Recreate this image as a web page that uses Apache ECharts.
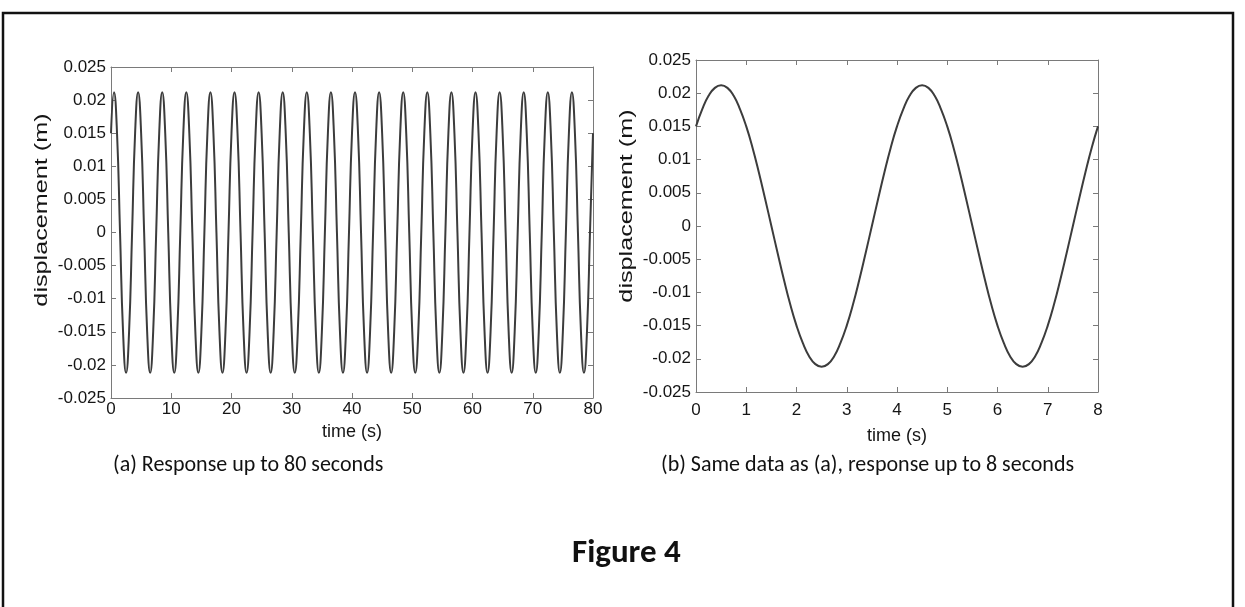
<!DOCTYPE html>
<html>
<head>
<meta charset="utf-8">
<title>Figure 4</title>
<script src="https://cdn.jsdelivr.net/npm/echarts@6.0.0/dist/echarts.min.js"></script>
<style>
  html, body { margin: 0; padding: 0; background: #fff; }
  #chart { width: 1245px; height: 607px; }
</style>
</head>
<body>
<div id="chart"></div>
<script>
// displacement (m), one sample every 0.5 s from 0 to 80 s
const stepLong = 0.5
const dispLong = [
  0.015, 0.0212, 0.015, 0, -0.015, -0.0212, -0.015, 0,
  0.015, 0.0212, 0.015, 0, -0.015, -0.0212, -0.015, 0,
  0.015, 0.0212, 0.015, 0, -0.015, -0.0212, -0.015, 0,
  0.015, 0.0212, 0.015, 0, -0.015, -0.0212, -0.015, 0,
  0.015, 0.0212, 0.015, 0, -0.015, -0.0212, -0.015, 0,
  0.015, 0.0212, 0.015, 0, -0.015, -0.0212, -0.015, 0,
  0.015, 0.0212, 0.015, 0, -0.015, -0.0212, -0.015, 0,
  0.015, 0.0212, 0.015, 0, -0.015, -0.0212, -0.015, 0,
  0.015, 0.0212, 0.015, 0, -0.015, -0.0212, -0.015, 0,
  0.015, 0.0212, 0.015, 0, -0.015, -0.0212, -0.015, 0,
  0.015, 0.0212, 0.015, 0, -0.015, -0.0212, -0.015, 0,
  0.015, 0.0212, 0.015, 0, -0.015, -0.0212, -0.015, 0,
  0.015, 0.0212, 0.015, 0, -0.015, -0.0212, -0.015, 0,
  0.015, 0.0212, 0.015, 0, -0.015, -0.0212, -0.015, 0,
  0.015, 0.0212, 0.015, 0, -0.015, -0.0212, -0.015, 0,
  0.015, 0.0212, 0.015, 0, -0.015, -0.0212, -0.015, 0,
  0.015, 0.0212, 0.015, 0, -0.015, -0.0212, -0.015, 0,
  0.015, 0.0212, 0.015, 0, -0.015, -0.0212, -0.015, 0,
  0.015, 0.0212, 0.015, 0, -0.015, -0.0212, -0.015, 0,
  0.015, 0.0212, 0.015, 0, -0.015, -0.0212, -0.015, 0,
  0.015
]

// displacement (m), one sample every 0.125 s from 0 to 8 s
const stepShort = 0.125
const dispShort = [
  0.015, 0.0176, 0.0196, 0.0208, 0.0212, 0.0208, 0.0196, 0.0176,
  0.015, 0.0118, 0.0081, 0.0041, 0, -0.0041, -0.0081, -0.0118,
  -0.015, -0.0176, -0.0196, -0.0208, -0.0212, -0.0208, -0.0196, -0.0176,
  -0.015, -0.0118, -0.0081, -0.0041, 0, 0.0041, 0.0081, 0.0118,
  0.015, 0.0176, 0.0196, 0.0208, 0.0212, 0.0208, 0.0196, 0.0176,
  0.015, 0.0118, 0.0081, 0.0041, 0, -0.0041, -0.0081, -0.0118,
  -0.015, -0.0176, -0.0196, -0.0208, -0.0212, -0.0208, -0.0196, -0.0176,
  -0.015, -0.0118, -0.0081, -0.0041, 0, 0.0041, 0.0081, 0.0118,
  0.015
]

const yName = 'displacement (m)'
const xName = 'time (s)'
const captionA = '(a) Response up to 80 seconds'
const captionB = '(b) Same data as (a), response up to 8 seconds'
const figureTitle = 'Figure 4'

const axisFont = 'Liberation Sans, Arial, sans-serif'
const captionFont = 'Carlito, Lato, sans-serif'
const boxColor = '#7a7a7a'
const textColor = '#151515'

function xAxes(gridIndex, max, interval, nameGap, margin) {
  const base = {
    type: 'value',
    gridIndex: gridIndex,
    min: 0,
    max: max,
    interval: interval,
    axisLine: { show: true, onZero: false, lineStyle: { color: boxColor, width: 1 } },
    axisTick: { show: true, inside: true, length: 5, lineStyle: { color: boxColor } },
    splitLine: { show: false }
  }
  return [
    Object.assign({}, base, {
      position: 'bottom',
      name: xName,
      nameLocation: 'middle',
      nameGap: nameGap,
      nameTextStyle: { fontFamily: axisFont, fontSize: 18, color: textColor },
      axisLabel: { fontFamily: axisFont, fontSize: 17, color: textColor, margin: margin }
    }),
    Object.assign({}, base, {
      position: 'top',
      axisLabel: { show: false }
    })
  ]
}

function yAxes(gridIndex) {
  const base = {
    type: 'value',
    gridIndex: gridIndex,
    min: -0.025,
    max: 0.025,
    interval: 0.005,
    axisLine: { show: true, onZero: false, lineStyle: { color: boxColor, width: 1 } },
    axisTick: { show: true, inside: true, length: 5, lineStyle: { color: boxColor } },
    splitLine: { show: false }
  }
  return [
    Object.assign({}, base, {
      position: 'left',
      axisLabel: { fontFamily: axisFont, fontSize: 17, color: textColor, margin: 5 }
    }),
    Object.assign({}, base, {
      position: 'right',
      axisLabel: { show: false }
    })
  ]
}

// the scanned figure is stretched vertically, so the rotated titles are stretched along their length
function yTitle(x, y) {
  return {
    type: 'text',
    x: x,
    y: y,
    rotation: Math.PI / 2,
    scaleX: 1.4,
    silent: true,
    style: {
      text: yName,
      fontFamily: axisFont,
      fontSize: 18,
      fill: textColor,
      align: 'center',
      verticalAlign: 'middle'
    }
  }
}

const chart = echarts.init(document.getElementById('chart'), null, { renderer: 'canvas' })

chart.setOption({
  animation: false,
  backgroundColor: '#fff',
  grid: [
    { left: 111, top: 67, width: 482, height: 331 },
    { left: 696, top: 60, width: 402, height: 332 }
  ],
  xAxis: [].concat(xAxes(0, 80, 10, 22, 3), xAxes(1, 8, 1, 35, 10)),
  yAxis: [].concat(yAxes(0), yAxes(1)),
  series: [
    {
      type: 'line',
      xAxisIndex: 0,
      yAxisIndex: 0,
      data: dispLong.map((v, i) => [i * stepLong, v]),
      smooth: 0.5,
      showSymbol: false,
      lineStyle: { color: '#3c3c3c', width: 2 }
    },
    {
      type: 'line',
      xAxisIndex: 2,
      yAxisIndex: 2,
      data: dispShort.map((v, i) => [i * stepShort, v]),
      smooth: 0.5,
      showSymbol: false,
      lineStyle: { color: '#3c3c3c', width: 2 }
    }
  ],
  graphic: [
    {
      type: 'rect',
      silent: true,
      shape: { x: 3, y: 13, width: 1230, height: 640 },
      style: { fill: 'none', stroke: '#111', lineWidth: 2.5 }
    },
    yTitle(42, 210),
    yTitle(627, 206),
    {
      type: 'text',
      left: 113,
      top: 454,
      style: { text: captionA, fontFamily: captionFont, fontSize: 22, fill: '#111' }
    },
    {
      type: 'text',
      left: 661,
      top: 454,
      style: { text: captionB, fontFamily: captionFont, fontSize: 22, fill: '#111' }
    },
    {
      type: 'text',
      left: 572,
      top: 537,
      style: { text: figureTitle, fontFamily: captionFont, fontSize: 33, fontWeight: 'bold', fill: '#111' }
    }
  ]
})
</script>
</body>
</html>
